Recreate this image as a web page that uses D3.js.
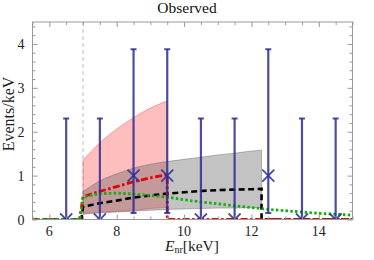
<!DOCTYPE html>
<html>
<head>
<meta charset="utf-8">
<script src="https://d3js.org/d3.v7.min.js"></script>
<style>
  body { margin: 0; background: #fff; }
  text { font-family: "Liberation Serif", "DejaVu Serif", serif; }
</style>
</head>
<body>
<div class="chart"></div>
<script>
// observed counts per 1 keV bin, with error bars
let binCenters = [6.5, 7.5, 8.5, 9.5, 10.5, 11.5, 12.5, 13.5, 14.5];
let observed = [0, 0, 1, 1, 0, 0, 1, 0, 0];
let errLow = [0, 0, 0.15, 0.15, 0, 0, 0.15, 0, 0];
let errHigh = [2.3, 2.3, 3.88, 3.88, 2.3, 2.3, 3.88, 2.3, 2.3];

// red band
let redBandX = [7, 7.5, 8, 8.5, 9, 9.5];
let redBandHi = [1.35, 1.75, 2.06, 2.32, 2.54, 2.7];
let redBandLo = [0.14, 0.17, 0.19, 0.21, 0.25, 0.28];

// grey band
let greyBandX = [7, 7.5, 8, 8.5, 9, 9.5, 10, 10.5, 11, 11.5, 12, 12.3];
let greyBandHi = [0.64, 0.88, 1.04, 1.17, 1.26, 1.32, 1.37, 1.42, 1.47, 1.51, 1.56, 1.58];
let greyBandLo = [0.12, 0.15, 0.17, 0.19, 0.21, 0.23, 0.24, 0.25, 0.26, 0.26, 0.27, 0.27];

// curves
let blackX = [5.5, 6.95, 7, 7.5, 8, 8.5, 9, 9.5, 10, 10.5, 11, 11.5, 12, 12.3, 12.3, 15];
let blackY = [0, 0, 0.29, 0.37, 0.43, 0.5, 0.55, 0.59, 0.62, 0.65, 0.67, 0.68, 0.69, 0.7, 0, 0];
let redX = [5.5, 6.9, 7, 7.5, 8, 8.5, 9, 9.5, 9.5, 15];
let redY = [0, 0, 0.52, 0.64, 0.75, 0.86, 0.95, 1.02, 0, 0];
let greenX = [5.5, 6.9, 7, 7.5, 8, 8.5, 9, 9.5, 10, 10.5, 11, 11.5, 12, 12.5, 13, 13.5, 14, 14.5, 15];
let greenY = [0, 0, 0.51, 0.59, 0.6, 0.58, 0.55, 0.51, 0.45, 0.4, 0.36, 0.31, 0.27, 0.23, 0.2, 0.17, 0.14, 0.12, 0.1];

let threshold = 7;
let xMajor = [6, 8, 10, 12, 14];
let yMajor = [0, 1, 2, 3, 4];

let W = 374, H = 260;
let mLeft = 32.5, mRight = 352.5, mTop = 22, mBottom = 219.5;

let svg = d3.select('.chart').append('svg')
    .attr('width', W).attr('height', H);

let x = d3.scaleLinear().domain([5.5, 15]).range([mLeft, mRight]);
let y = d3.scaleLinear().domain([0, 4.5]).range([mBottom, mTop]);

svg.append('clipPath').attr('id', 'clip')
    .append('rect')
    .attr('x', mLeft).attr('y', mTop)
    .attr('width', mRight - mLeft).attr('height', mBottom - mTop);

let plot = svg.append('g').attr('clip-path', 'url(#clip)');

// threshold line
plot.append('line')
    .attr('x1', x(threshold)).attr('x2', x(threshold))
    .attr('y1', mTop).attr('y2', mBottom)
    .style('stroke', '#bbb').style('stroke-width', 1)
    .style('stroke-dasharray', '4,3');

function band(xs, lo, hi) {
    let pts = xs.map(function (d, i) { return { x: d, lo: lo[i], hi: hi[i] }; });
    return d3.area()
        .x(function (d) { return x(d.x); })
        .y0(function (d) { return y(d.lo); })
        .y1(function (d) { return y(d.hi); })
        .curve(d3.curveMonotoneX)(pts);
}

plot.append('path')
    .attr('d', band(redBandX, redBandLo, redBandHi))
    .style('fill', 'rgba(255,100,100,0.42)')
    .style('stroke', 'rgba(255,80,80,0.6)')
    .style('stroke-width', 0.8);

plot.append('path')
    .attr('d', band(greyBandX, greyBandLo, greyBandHi))
    .style('fill', 'rgba(90,90,90,0.36)')
    .style('stroke', 'rgba(90,90,90,0.5)')
    .style('stroke-width', 0.8);

function curve(xs, ys) {
    let pts = xs.map(function (d, i) { return [d, ys[i]]; });
    return d3.line()
        .x(function (d) { return x(d[0]); })
        .y(function (d) { return y(d[1]); })(pts);
}

plot.append('path')
    .attr('d', curve(blackX, blackY))
    .style('fill', 'none').style('stroke', '#000')
    .style('stroke-width', 2.6).style('stroke-dasharray', '6,3.5');

plot.append('path')
    .attr('d', curve(redX, redY))
    .style('fill', 'none').style('stroke', '#e80000')
    .style('stroke-width', 2.8).style('stroke-dasharray', '7,2.5,2.5,2.5');

plot.append('path')
    .attr('d', curve(greenX, greenY))
    .style('fill', 'none').style('stroke', '#12b012')
    .style('stroke-width', 2.8).style('stroke-dasharray', '2.5,2.3');

// error bars
let blue = 'rgba(45,45,150,0.85)';
let bars = plot.selectAll('.err')
    .data(binCenters.map(function (d, i) {
        return { x: d, v: observed[i], lo: errLow[i], hi: errHigh[i] };
    }))
    .enter().append('g').attr('class', 'err');

bars.append('line')
    .attr('x1', function (d) { return x(d.x); })
    .attr('x2', function (d) { return x(d.x); })
    .attr('y1', function (d) { return y(d.lo); })
    .attr('y2', function (d) { return y(d.hi); })
    .style('stroke', blue).style('stroke-width', 2.2);

bars.append('line')
    .attr('x1', function (d) { return x(d.x) - 3; })
    .attr('x2', function (d) { return x(d.x) + 3; })
    .attr('y1', function (d) { return y(d.hi); })
    .attr('y2', function (d) { return y(d.hi); })
    .style('stroke', blue).style('stroke-width', 2);

bars.append('line')
    .attr('x1', function (d) { return x(d.x) - 3; })
    .attr('x2', function (d) { return x(d.x) + 3; })
    .attr('y1', function (d) { return y(d.lo); })
    .attr('y2', function (d) { return y(d.lo); })
    .style('stroke', blue).style('stroke-width', 2);

bars.append('path')
    .attr('d', function (d) {
        let cx = x(d.x), cy = y(d.v), s = 6;
        return 'M' + (cx - s) + ',' + (cy - s) + 'L' + (cx + s) + ',' + (cy + s) +
            'M' + (cx - s) + ',' + (cy + s) + 'L' + (cx + s) + ',' + (cy - s);
    })
    .style('stroke', blue).style('stroke-width', 1.8).style('fill', 'none');

// frame and ticks
let tickColor = '#999';
function ticks(axis, vals, size, pos) {
    let g = svg.append('g')
        .attr('transform', pos)
        .call(axis.tickValues(vals).tickSize(size).tickFormat(''));
    g.select('.domain').remove();
    g.selectAll('line').style('stroke', tickColor);
    return g;
}
let xMinor = d3.range(5.5, 15.01, 0.5).filter(function (d) { return xMajor.indexOf(d) < 0; });
let yMinor = d3.range(0, 4.51, 0.2).map(function (d) { return +d.toFixed(1); })
    .filter(function (d) { return yMajor.indexOf(d) < 0; });

ticks(d3.axisBottom(x), xMajor, -5, 'translate(0,' + mBottom + ')');
ticks(d3.axisBottom(x), xMinor, -3, 'translate(0,' + mBottom + ')');
ticks(d3.axisTop(x), xMajor, -5, 'translate(0,' + mTop + ')');
ticks(d3.axisTop(x), xMinor, -3, 'translate(0,' + mTop + ')');
ticks(d3.axisLeft(y), yMajor, -5, 'translate(' + mLeft + ',0)');
ticks(d3.axisLeft(y), yMinor, -3, 'translate(' + mLeft + ',0)');
ticks(d3.axisRight(y), yMajor, -5, 'translate(' + mRight + ',0)');
ticks(d3.axisRight(y), yMinor, -3, 'translate(' + mRight + ',0)');

svg.append('rect')
    .attr('x', mLeft).attr('y', mTop)
    .attr('width', mRight - mLeft).attr('height', mBottom - mTop)
    .style('fill', 'none').style('stroke', tickColor).style('stroke-width', 1);

// tick labels
svg.selectAll('.xl').data(xMajor).enter().append('text')
    .attr('x', function (d) { return x(d); })
    .attr('y', mBottom + 16)
    .style('text-anchor', 'middle').style('font-size', '14px').style('fill', '#222')
    .text(function (d) { return d; });

svg.selectAll('.yl').data(yMajor).enter().append('text')
    .attr('x', mLeft - 8)
    .attr('y', function (d) { return y(d) + 5; })
    .style('text-anchor', 'end').style('font-size', '14px').style('fill', '#222')
    .text(function (d) { return d; });

svg.append('text')
    .attr('x', 187).attr('y', 12.5)
    .style('text-anchor', 'middle').style('font-size', '15.5px').style('fill', '#111')
    .text('Observed');

svg.append('text')
    .attr('transform', 'translate(13.5,' + 114 + ') rotate(-90)')
    .style('text-anchor', 'middle').style('font-size', '16px').style('fill', '#222')
    .text('Events/keV');

let xl = svg.append('text')
    .attr('x', 192).attr('y', 251)
    .style('text-anchor', 'middle').style('font-size', '15.5px').style('fill', '#222');
xl.append('tspan').style('font-style', 'italic').text('E');
xl.append('tspan').attr('dy', 2).style('font-size', '10px').text('nr');
xl.append('tspan').attr('dy', -2).text('[keV]');
</script>
</body>
</html>
